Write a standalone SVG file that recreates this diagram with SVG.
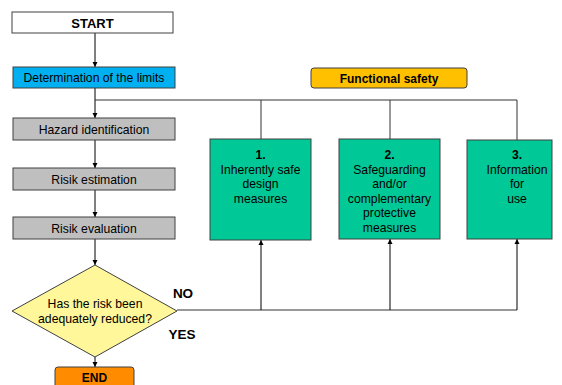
<svg xmlns="http://www.w3.org/2000/svg" width="562" height="385" viewBox="0 0 562 385">
<defs>
<marker id="ah" viewBox="0 0 10 10" refX="10" refY="5" markerWidth="5" markerHeight="6" orient="auto" markerUnits="userSpaceOnUse">
<path d="M0,0 L10,5 L0,10 z" fill="#000"/>
</marker>
<style>
text{font-family:"Liberation Sans",Arial,sans-serif;fill:#000;text-anchor:middle}
.t{font-size:12.2px}
.b{font-weight:bold}
.box{stroke:#404040;stroke-width:1}
.c{fill:none;stroke:#333;stroke-width:1}
.a{fill:none;stroke:#000;stroke-width:1;marker-end:url(#ah)}
</style>
</defs>
<g id="connectors">
<line class="a" x1="95" y1="33" x2="95" y2="67"/>
<line class="a" x1="95" y1="88" x2="95" y2="118"/>
<line class="a" x1="95" y1="140" x2="95" y2="168"/>
<line class="a" x1="95" y1="190" x2="95" y2="217"/>
<line class="a" x1="95" y1="239" x2="95" y2="265"/>
<line class="a" x1="95" y1="357" x2="95" y2="367"/>
<path class="c" d="M95,100 H517 V140 M261,100 V139 M390,100 V139"/>
<path class="c" d="M177,310 H517"/>
<line class="a" x1="261" y1="310" x2="261" y2="240"/>
<line class="a" x1="390" y1="310" x2="390" y2="239"/>
<line class="a" x1="517" y1="310" x2="517" y2="239"/>
</g>
<g id="start">
<rect class="box" x="12" y="12" width="161" height="21" fill="#fff"/>
<text class="b" x="92.5" y="27.5" font-size="13">START</text>
</g>
<g id="limits">
<rect class="box" x="13" y="67" width="162" height="21" fill="#00B0F0"/>
<text class="t" x="94" y="82">Determination of the limits</text>
</g>
<g id="hazard">
<rect class="box" x="13" y="118" width="162" height="22" fill="#BFBFBF"/>
<text class="t" x="94" y="133.5">Hazard identification</text>
</g>
<g id="estimation">
<rect class="box" x="13" y="168" width="162" height="22" fill="#BFBFBF"/>
<text class="t" x="94" y="183.5">Risik estimation</text>
</g>
<g id="evaluation">
<rect class="box" x="13" y="217" width="162" height="22" fill="#BFBFBF"/>
<text class="t" x="94" y="232.5">Risik evaluation</text>
</g>
<g id="decision">
<polygon class="box" points="95,265 177,311 95,357 12,311" fill="#FFF799"/>
<text class="t" x="95" y="308">Has the risk been</text>
<text class="t" x="95" y="322.5">adequately reduced?</text>
<text class="b" x="183" y="298" font-size="13.5">NO</text>
<text class="b" x="182" y="339" font-size="13.5">YES</text>
</g>
<g id="end">
<rect class="box" x="55" y="367" width="79" height="26" rx="3" fill="#FF8C00"/>
<text class="b" x="94.5" y="382" font-size="12">END</text>
</g>
<g id="functional">
<rect class="box" x="311" y="68" width="156" height="20" rx="3" fill="#FFC000"/>
<text class="b" x="389" y="82.5" font-size="12">Functional safety</text>
</g>
<g id="m1">
<rect class="box" x="210" y="139" width="101" height="101" fill="#00C896"/>
<text class="t" x="260.5" y="159"><tspan x="260.5" font-weight="bold">1.</tspan><tspan x="260.5" dy="14.5">Inherently safe</tspan><tspan x="260.5" dy="14.5">design</tspan><tspan x="260.5" dy="14.5">measures</tspan></text>
</g>
<g id="m2">
<rect class="box" x="339" y="139" width="101" height="100" fill="#00C896"/>
<text class="t" x="389.5" y="159"><tspan x="389.5" font-weight="bold">2.</tspan><tspan x="389.5" dy="14.5">Safeguarding</tspan><tspan x="389.5" dy="14.5">and/or</tspan><tspan x="389.5" dy="14.5">complementary</tspan><tspan x="389.5" dy="14.5">protective</tspan><tspan x="389.5" dy="14.5">measures</tspan></text>
</g>
<g id="m3">
<rect class="box" x="467" y="140" width="85" height="99" fill="#00C896"/>
<text class="t" x="517" y="159"><tspan x="517" font-weight="bold">3.</tspan><tspan x="517" dy="14.5">Information</tspan><tspan x="517" dy="14.5">for</tspan><tspan x="517" dy="14.5">use</tspan></text>
</g>
</svg>
